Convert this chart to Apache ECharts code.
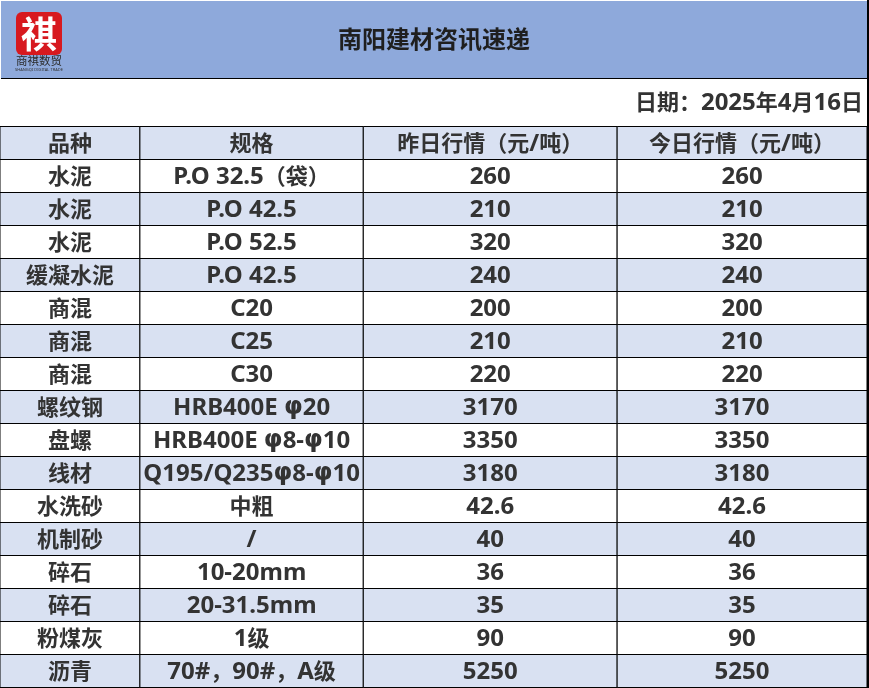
<!DOCTYPE html>
<html>
<head>
<meta charset="utf-8">
<style>
html, body { margin: 0; padding: 0; background: #fff; }
#chart { width: 869px; height: 688px; }
</style>
<script src="https://cdn.jsdelivr.net/npm/echarts@6/dist/echarts.min.js"></script>
</head>
<body>
<div id="chart"></div>
<script>
var titleText = '南阳建材咨讯速递';
var dateText = '日期：2025年4月16日';
var headers = ['品种', '规格', '昨日行情（元/吨）', '今日行情（元/吨）'];
var varieties = ['水泥', '水泥', '水泥', '缓凝水泥', '商混', '商混', '商混', '螺纹钢', '盘螺', '线材', '水洗砂', '机制砂', '碎石', '碎石', '粉煤灰', '沥青'];
var specs = ['P.O 32.5（袋）', 'P.O 42.5', 'P.O 52.5', 'P.O 42.5', 'C20', 'C25', 'C30', 'HRB400E φ20', 'HRB400E φ8-φ10', 'Q195/Q235φ8-φ10', '中粗', '/', '10-20mm', '20-31.5mm', '1级', '70#，90#，A级'];
var yesterday = [260, 210, 320, 240, 200, 210, 220, 3170, 3350, 3180, 42.6, 40, 36, 35, 90, 5250];
var today = [260, 210, 320, 240, 200, 210, 220, 3170, 3350, 3180, 42.6, 40, 36, 35, 90, 5250];
// column edges on the x axis
var colEdges = [0, 140, 363.5, 617.5, 867.5];

var font = '"Noto Sans", "Noto Sans CJK SC", sans-serif';
var cjkFont = '"Noto Sans CJK SC", sans-serif';

// chinese is 22px, latin and digits 24px, as in the picture
var richStyles = {
    c: { fontFamily: cjkFont, fontSize: 22, fontWeight: 'bold', fill: '#333', color: '#333', verticalAlign: 'middle', padding: [0, 0, 2, 0] },
    l: { fontFamily: font, fontSize: 24, fontWeight: 'bold', fill: '#333', color: '#333', verticalAlign: 'middle' },
    p: { fontFamily: '"DejaVu Sans"', fontSize: 24, fontWeight: 'bold', fill: '#333', color: '#333', verticalAlign: 'middle' }
};
function toRich(s) {
    return s.replace(/[\u4e00-\u9fff\uff00-\uffef]+|φ|[^\u4e00-\u9fff\uff00-\uffefφ]+/g, function (run) {
        var key = /[\u4e00-\u9fff\uff00-\uffef]/.test(run) ? 'c' : (run === 'φ' ? 'p' : 'l');
        return '{' + key + '|' + run + '}';
    });
}

var rowNames = ['header'];
var cells = [];
headers.forEach(function (h, c) {
    cells.push({ col: c, row: 0, text: h });
});
varieties.forEach(function (v, i) {
    rowNames.push(i + 1);
    [v, specs[i], yesterday[i], today[i]].forEach(function (t, c) {
        cells.push({ col: c, row: i + 1, text: String(t) });
    });
});

var myChart = echarts.init(document.getElementById('chart'));
var option = {
    backgroundColor: '#fff',
    animation: false,
    title: {
        text: titleText,
        left: 429,
        top: 22,
        textAlign: 'center',
        textStyle: { fontFamily: cjkFont, fontSize: 24, fontWeight: 'bold', color: '#1f1f1f' }
    },
    // left edge of the table sits just off the canvas, the picture has no left border
    grid: { left: -0.5, top: 126.5, width: 867.5, height: 561 },
    xAxis: { type: 'value', min: 0, max: 867.5, show: false },
    yAxis: { type: 'category', data: rowNames, inverse: true, show: false },
    graphic: [
        // top band
        { type: 'rect', z: -1, shape: { x: 1, y: 1, width: 866, height: 77.5 }, style: { fill: '#8EA9DB', stroke: null } },
        { type: 'line', shape: { x1: 1, y1: 78.5, x2: 867, y2: 78.5 }, style: { stroke: '#000', lineWidth: 1 } },
        { type: 'rect', shape: { x: 867, y: 0, width: 2, height: 688 }, style: { fill: '#000' } },
        { type: 'rect', shape: { x: 0, y: 686, width: 869, height: 2 }, style: { fill: '#000' } },
        // logo
        { type: 'rect', shape: { x: 16, y: 12, width: 46, height: 43, r: 6 }, style: { fill: '#D7191F' } },
        { type: 'text', style: { x: 39, y: 34, text: '祺', fill: '#fff', fontFamily: cjkFont, fontSize: 36, fontWeight: 'bold', align: 'center', verticalAlign: 'middle' } },
        { type: 'text', style: { x: 39, y: 61, text: '商祺数贸', fill: '#2b2b2b', fontFamily: cjkFont, fontSize: 11.5, align: 'center', verticalAlign: 'middle' } },
        { type: 'text', style: { x: 39, y: 70, text: 'SHANGQI DIGITAL TRADE', fill: '#333', fontFamily: font, fontSize: 4, align: 'center', verticalAlign: 'middle' } },
        // date line
        { type: 'text', style: { x: 863, y: 103, text: toRich(dateText), rich: richStyles, align: 'right', verticalAlign: 'middle' } }
    ],
    series: [{
        type: 'custom',
        coordinateSystem: 'cartesian2d',
        encode: { x: 0, y: 1 },
        data: cells.map(function (c) { return [colEdges[c.col], c.row]; }),
        renderItem: function (params, api) {
            var cell = cells[params.dataIndex];
            var p0 = api.coord([colEdges[cell.col], cell.row]);
            var p1 = api.coord([colEdges[cell.col + 1], cell.row]);
            var h = api.size([0, 1])[1];
            return {
                type: 'group',
                children: [{
                    type: 'rect',
                    shape: { x: p0[0], y: p0[1] - h / 2, width: p1[0] - p0[0], height: h },
                    style: { fill: cell.row % 2 === 0 ? '#D9E1F2' : '#fff', stroke: '#000', lineWidth: 1 }
                }, {
                    type: 'text',
                    z2: 10,
                    style: {
                        x: (p0[0] + p1[0]) / 2,
                        y: p0[1] + 1,
                        text: toRich(cell.text),
                        rich: richStyles,
                        align: 'center',
                        verticalAlign: 'middle'
                    }
                }]
            };
        }
    }]
};
myChart.setOption(option);
</script>
</body>
</html>
